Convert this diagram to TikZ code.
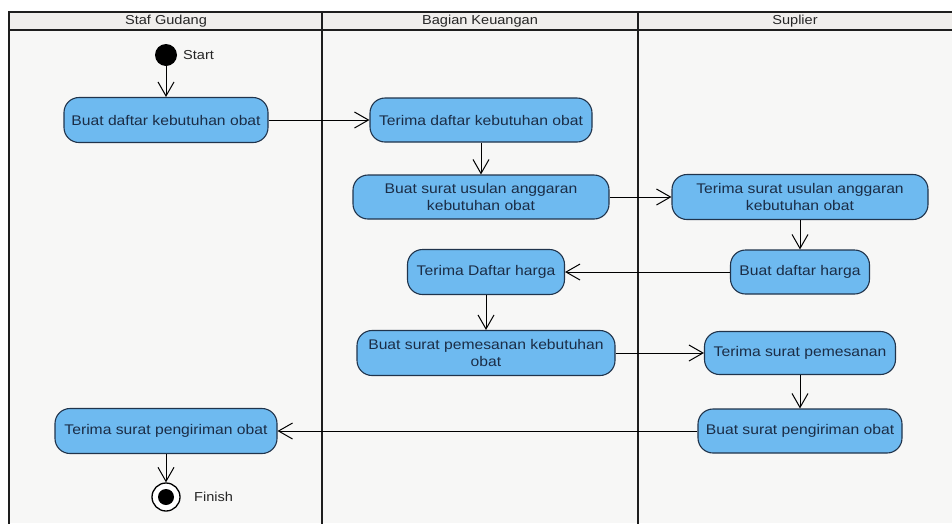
\documentclass[tikz,border=0pt]{standalone}
\usepackage{fontspec}
\setmainfont{Liberation Sans}[FakeStretch=1.12]
\usetikzlibrary{arrows.meta}
\definecolor{actfill}{RGB}{110,186,240}
\definecolor{actdraw}{RGB}{32,52,76}
\definecolor{acttext}{RGB}{27,45,70}
\definecolor{lanebg}{RGB}{247,247,246}
\definecolor{headbg}{RGB}{240,238,236}
\definecolor{laneline}{RGB}{30,30,30}
\begin{document}
\begin{tikzpicture}[x=1pt,y=-1pt,
  act/.style={draw=actdraw, line width=1.1pt, fill=actfill, rounded corners=15pt,
    text=acttext, font=\fontsize{14}{17}\selectfont, align=center, inner sep=0pt},
  flow/.style={draw=black, line width=1pt,
    -{Straight Barb[length=14pt,width=16pt,line width=1pt]}},
  lane/.style={draw=laneline, line width=2pt},
  head/.style={font=\fontsize{13}{15}\selectfont, text=black!85, inner sep=0pt},
  lbl/.style={font=\fontsize{13}{15}\selectfont, text=black!85, inner sep=0pt, anchor=west}
  ]
\useasboundingbox (0,0) rectangle (952,523);
\fill[white] (0,0) rectangle (952,523);
\fill[lanebg] (9,12) rectangle (952,523);
\fill[headbg] (9,12) rectangle (952,30);
\draw[lane] (9,524) -- (9,12) -- (953,12);
\draw[lane] (9,30) -- (953,30);
\draw[lane] (322,12) -- (322,524);
\draw[lane] (638,12) -- (638,524);

\node[head] (h1) at (166,21) {Staf Gudang};
\node[head] (h2) at (480,21) {Bagian Keuangan};
\node[head] (h3) at (795,21) {Suplier};

\node[circle, fill=black, minimum size=22pt, inner sep=0pt] (start) at (166,55) {};
\node[lbl] (startlbl) at (183,55) {Start};

\node[act, minimum width=204pt, minimum height=45pt] (n1) at (166,120) {Buat daftar kebutuhan obat};
\node[act, minimum width=222pt, minimum height=44pt] (n2) at (481,120) {Terima daftar kebutuhan obat};
\node[act, minimum width=256pt, minimum height=44pt] (n3) at (481,197) {Buat surat usulan anggaran\\kebutuhan obat};
\node[act, minimum width=256pt, minimum height=45pt] (n4) at (800,197) {Terima surat usulan anggaran\\kebutuhan obat};
\node[act, minimum width=139pt, minimum height=44pt] (n5) at (800,272) {Buat daftar harga};
\node[act, minimum width=157pt, minimum height=45pt] (n6) at (486,272) {Terima Daftar harga};
\node[act, minimum width=258pt, minimum height=45pt] (n7) at (486,353) {Buat surat pemesanan kebutuhan\\obat};
\node[act, minimum width=191pt, minimum height=43pt] (n8) at (800,353) {Terima surat pemesanan};
\node[act, minimum width=204pt, minimum height=44pt] (n9) at (800,431) {Buat surat pengiriman obat};
\node[act, minimum width=222pt, minimum height=45pt] (n10) at (166,431) {Terima surat pengiriman obat};

\node[circle, draw=black, line width=1.3pt, fill=white, minimum size=28pt, inner sep=0pt] (fin) at (166,497) {};
\node[circle, fill=black, minimum size=16pt, inner sep=0pt] (finin) at (fin) {};
\node[lbl] (finlbl) at (194,497) {Finish};

\draw[flow] (start) -- (n1);
\draw[flow] (n1) -- (n2);
\draw[flow] (n2) -- (n3);
\draw[flow] (n3) -- (n4);
\draw[flow] (n4) -- (n5);
\draw[flow] (n5) -- (n6);
\draw[flow] (n6) -- (n7);
\draw[flow] (n7) -- (n8);
\draw[flow] (n8) -- (n9);
\draw[flow] (n9) -- (n10);
\draw[flow] (n10) -- (fin);
\end{tikzpicture}
\end{document}
